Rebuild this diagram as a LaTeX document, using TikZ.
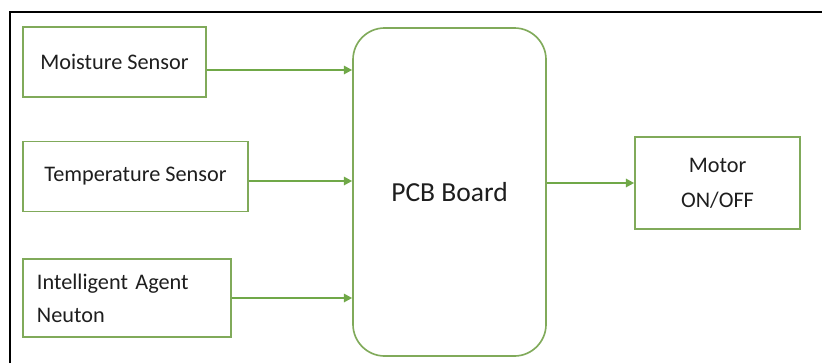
\documentclass[tikz,border=0pt]{standalone}
\usepackage{fontspec}
\setmainfont{Carlito}
\usetikzlibrary{positioning,arrows.meta}
\definecolor{boxgreen}{RGB}{128,170,90}
\definecolor{arrgreen}{RGB}{112,168,72}
\definecolor{txtgray}{RGB}{30,30,30}

\begin{document}
\begin{tikzpicture}[
  x=0.03cm, y=-0.03cm,
  >={Triangle[length=7pt,width=7pt]},
  sensor/.style={draw=boxgreen, line width=1.4pt, minimum height=2.1cm, inner sep=0pt, text=txtgray, font=\fontsize{19}{24}\selectfont},
  board/.style={draw=boxgreen, line width=1.4pt, rounded corners=0.95cm, minimum width=5.79cm, minimum height=9.84cm, text=txtgray, font=\fontsize{23.5}{28}\selectfont},
  arr/.style={->, draw=arrgreen, fill=arrgreen, line width=1.8pt}
]
  \useasboundingbox (0,0) rectangle (822,363);
  \draw[line width=1.3pt] (10,363) |- (822,12);
  \node[sensor, minimum width=5.49cm] (moist) at (114.5,62) {Moisture Sensor};
  \node[sensor, minimum width=6.75cm] (temp) at (135.5,176.5) {Temperature Sensor};
  \node[sensor, minimum width=6.24cm, minimum height=2.34cm, text width=5.4cm, align=left] (agent) at (127,298) {Intelligent Agent\\[4pt]Neuton};
  \node[board] (pcb) at (449.5,192) {PCB Board};
  \node[sensor, minimum width=4.95cm, minimum height=2.76cm, align=center] (motor) at (717.5,183) {Motor\\[6pt]ON/OFF};
  \draw[arr] (moist.east |- 0,70) -- (pcb.west |- 0,70);
  \draw[arr] (temp.east |- 0,181) -- (pcb.west |- 0,181);
  \draw[arr] (agent.east) -- (agent.east -| pcb.west);
  \draw[arr] (pcb.east |- motor.west) -- (motor.west);
\end{tikzpicture}
\end{document}
